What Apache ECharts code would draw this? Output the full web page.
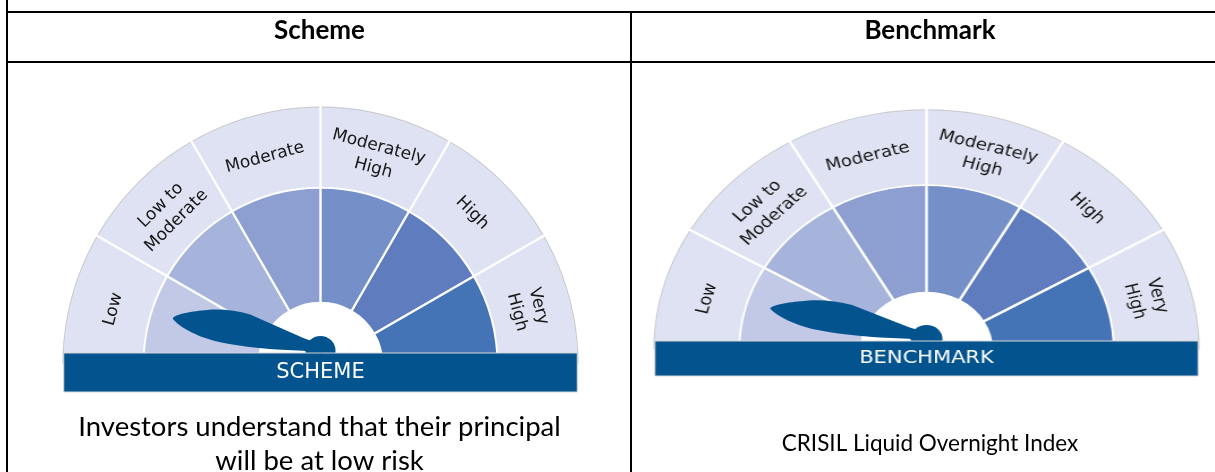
<!DOCTYPE html>
<html><head><meta charset="utf-8">
<script src="https://cdn.jsdelivr.net/npm/echarts@6/dist/echarts.min.js"></script>
<style>
html,body{margin:0;padding:0;background:#fff;}
#wrap{position:relative;width:1215px;height:472px;overflow:hidden;background:#fff;}
.layer{position:absolute;left:0;top:0;width:1215px;height:472px;}
</style></head><body>
<div id="wrap">
  <div id="base" class="layer"></div>
  <div id="scheme" class="layer"></div>
  <div id="bench" class="layer" style="transform:scaleX(1.133);transform-origin:926.5px 0;"></div>
</div>
<script>
// ---- data ----
const riskLevels = ['Low', 'Low to\nModerate', 'Moderate', 'Moderately\nHigh', 'High', 'Very\nHigh'];
const ringColors = ['#c1c9e6', '#a6b4db', '#8d9fd1', '#7590c8', '#5e7cbe', '#4474b5'];
const columnTitles = ['Scheme', 'Benchmark'];
const bannerTexts = ['SCHEME', 'BENCHMARK'];
const needleValues = [0.40, 0.40];   // scale 0..6, one unit per risk level
const captionsScheme = ['Investors understand that their principal', 'will be at low risk'];
const captionsBench = ['CRISIL Liquid Overnight Index'];

const NAVY = '#03538f';
const LAVENDER = '#dfe2f2';
const NEEDLE = 'path://M1 0C6 2 12 18 16 32C20 45 21.5 60 20.4 75L8.8 131.9L6 151.4L-2 151.4L-3.3 134.5L-7.5 108.2C-10 90 -12.5 65 -11.8 45C-11 28 -6 8 1 0Z';

// ---- table frame and texts ----
const base = echarts.init(document.getElementById('base'));
const TXT = 'Lato, "Open Sans", sans-serif';
function line(x1, y1, x2, y2) {
  return { type: 'line', shape: { x1, y1, x2, y2 }, style: { stroke: '#000', lineWidth: 2 } };
}
function text(x, y, t, font) {
  return { type: 'text', x, y, style: { text: t, font, fill: '#000', align: 'center', verticalAlign: 'middle', textAlign: 'center', textVerticalAlign: 'middle' } };
}
base.setOption({
  backgroundColor: '#fff',
  animation: false,
  graphic: [
    line(6, 12, 1215, 12),
    line(6, 62, 1215, 62),
    line(7, 0, 7, 472),
    line(631, 12, 631, 472),
    text(319.5, 31, columnTitles[0], 'bold 26px ' + TXT),
    text(930, 31, columnTitles[1], 'bold 26px ' + TXT),
    text(319.5, 427, captionsScheme[0], '27.5px ' + TXT),
    text(319.5, 461, captionsScheme[1], '27.5px ' + TXT),
    text(930, 444, captionsBench[0], '22.5px ' + TXT)
  ]
});

// ---- riskometer gauges ----
function gaugeOption(g) {
  const R = g.R;
  const hidden = {
    type: 'gauge', center: [g.cx, g.cy], startAngle: 180, endAngle: 0, min: 0, max: 6, splitNumber: 6,
    axisTick: { show: false }, splitLine: { show: false, length: 0, distance: 0 }, axisLabel: { show: false },
    pointer: { show: false }, anchor: { show: false }, title: { show: false }, detail: { show: false },
    silent: true, animation: false, data: [{ value: 0 }]
  };
  const bx = g.cx - R * 0.999;
  return {
    backgroundColor: 'transparent',
    animation: false,
    series: [
      Object.assign({}, hidden, { radius: R + 1.2, axisLine: { lineStyle: { width: 1.4, color: [[1, '#cacbd2']] } } }),
      Object.assign({}, hidden, { radius: R, axisLine: { lineStyle: { width: R * 0.307, color: [[1, LAVENDER]] } } }),
      Object.assign({}, hidden, { radius: R * 0.685, axisLine: { lineStyle: { width: R * 0.44, color: ringColors.map((c, i) => [(i + 1) / 6, c]) } } }),
      Object.assign({}, hidden, {
        radius: R + 2, axisLine: { show: false, lineStyle: { width: 0 } },
        splitLine: { show: true, length: R * 0.755 + 4, distance: 0, lineStyle: { color: '#fff', width: 2.4 } }
      }),
      Object.assign({}, hidden, {
        radius: R * 0.835, splitNumber: 12, axisLine: { show: false, lineStyle: { width: 0 } },
        axisLabel: {
          show: true, distance: 0, rotate: 'tangential', color: '#161616', fontSize: g.labelFs,
          fontFamily: 'DejaVu Sans', lineHeight: g.labelFs * 1.3,
          formatter: function (v) { const k = Math.round(v * 2); return k % 2 === 1 ? riskLevels[(k - 1) / 2] : ''; }
        }
      }),
      Object.assign({}, hidden, {
        center: [g.cx, g.pivotY], radius: R, axisLine: { show: false, lineStyle: { width: 0 } },
        pointer: { show: true, icon: NEEDLE, length: R * 0.589, width: R * 0.1305, offsetCenter: [R * 0.0179, 0], itemStyle: { color: NAVY } },
        anchor: { show: true, showAbove: true, size: R * 0.117, itemStyle: { color: NAVY } },
        data: [{ value: g.value }]
      })
    ],
    graphic: [
      { type: 'rect', z: 100, shape: { x: bx, y: g.baseY + 1, width: R * 1.998, height: g.bannerH }, style: { fill: NAVY, stroke: '#d6d6d6', lineWidth: 1 } },
      { type: 'text', z: 101, x: g.cx, y: g.baseY + 1 + g.bannerH / 2, style: { text: g.banner, font: g.bannerFs + 'px "DejaVu Sans"', fill: '#fff', align: 'center', verticalAlign: 'middle', textAlign: 'center', textVerticalAlign: 'middle' } }
    ]
  };
}

const schemeChart = echarts.init(document.getElementById('scheme'));
schemeChart.setOption(gaugeOption({ cx: 320.5, cy: 364.8, pivotY: 351, baseY: 352, R: 257, bannerH: 39, bannerFs: 21, labelFs: 17, banner: bannerTexts[0], value: needleValues[0] }));

const benchChart = echarts.init(document.getElementById('bench'));
benchChart.setOption(gaugeOption({ cx: 926.5, cy: 350.5, pivotY: 339, baseY: 340, R: 240, bannerH: 35, bannerFs: 18.5, labelFs: 16, banner: bannerTexts[1], value: needleValues[1] }));
</script>
</body></html>
